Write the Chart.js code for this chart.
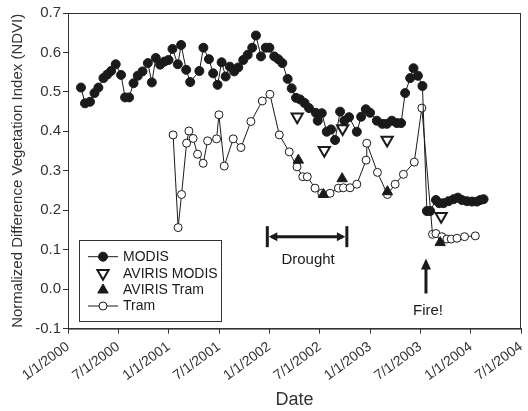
<!DOCTYPE html>
<html><head><meta charset="utf-8">
<script src="https://cdn.jsdelivr.net/npm/chart.js@4"></script>
<style>html,body{margin:0;padding:0;background:#fff;}canvas{display:block;}</style>
</head><body>
<canvas id="c" width="528" height="411"></canvas>
<script>
// ---- data (dates as decimal years) ----
const modisDates = [2000.129,2000.169,2000.219,2000.263,2000.302,2000.352,2000.390,2000.428,2000.474,2000.527,2000.567,2000.607,2000.651,2000.693,2000.740,2000.793,2000.833,2000.872,2000.915,2000.959,2000.999,2001.038,2001.091,2001.124,2001.174,2001.214,2001.305,2001.345,2001.400,2001.442,2001.486,2001.526,2001.566,2001.608,2001.651,2001.691,2001.741,2001.785,2001.830,2001.867,2001.917,2001.964,2002.001,2002.049,2002.089,2002.129,2002.182,2002.222,2002.265,2002.305,2002.350,2002.394,2002.461,2002.481,2002.521,2002.570,2002.613,2002.653,2002.703,2002.745,2002.792,2002.869,2002.912,2002.958,2003.001,2003.068,2003.123,2003.167,2003.217,2003.267,2003.309,2003.349,2003.399,2003.432,2003.476,2003.521,2003.565,2003.598,2003.655,2003.687,2003.730,2003.780,2003.830,2003.873,2003.913,2003.963,2004.013,2004.062,2004.095,2004.128];
const modisNdvi = [0.511,0.471,0.475,0.497,0.511,0.535,0.544,0.553,0.570,0.543,0.486,0.486,0.522,0.541,0.552,0.573,0.524,0.586,0.569,0.577,0.581,0.609,0.570,0.619,0.556,0.525,0.553,0.612,0.583,0.547,0.518,0.575,0.539,0.564,0.552,0.562,0.581,0.594,0.612,0.643,0.590,0.612,0.612,0.590,0.583,0.573,0.533,0.509,0.485,0.481,0.472,0.459,0.447,0.427,0.446,0.399,0.405,0.378,0.450,0.427,0.436,0.399,0.437,0.456,0.447,0.427,0.419,0.419,0.427,0.421,0.421,0.497,0.535,0.560,0.541,0.515,0.198,0.198,0.226,0.218,0.218,0.223,0.228,0.232,0.226,0.223,0.222,0.222,0.226,0.228];
const tramDates = [2001.044,2001.094,2001.128,2001.178,2001.201,2001.243,2001.287,2001.343,2001.387,2001.476,2001.499,2001.552,2001.641,2001.718,2001.817,2001.930,2002.006,2002.099,2002.198,2002.275,2002.332,2002.377,2002.454,2002.521,2002.603,2002.686,2002.736,2002.802,2002.869,2002.961,2002.968,2003.074,2003.173,2003.250,2003.332,2003.440,2003.515,2003.621,2003.655,2003.714,2003.764,2003.807,2003.864,2003.939,2004.046];
const tramNdvi = [0.391,0.156,0.240,0.370,0.401,0.382,0.342,0.319,0.376,0.381,0.442,0.312,0.381,0.359,0.425,0.477,0.494,0.391,0.348,0.310,0.285,0.285,0.256,0.243,0.243,0.256,0.257,0.257,0.266,0.327,0.370,0.296,0.240,0.266,0.291,0.322,0.459,0.139,0.141,0.133,0.127,0.127,0.129,0.133,0.135];
const avirisModisDates = [2002.277,2002.546,2002.728,2003.170,2003.707];
const avirisModisNdvi = [0.437,0.352,0.407,0.378,0.185];
const avirisTramDates = [2002.288,2002.537,2002.723,2003.173,2003.697];
const avirisTramNdvi = [0.327,0.240,0.280,0.247,0.118];
const xTickLabels = ['1/1/2000','7/1/2000','1/1/2001','7/1/2001','1/1/2002','7/1/2002','1/1/2003','7/1/2003','1/1/2004','7/1/2004'];
const yTickLabels = ['-0.1','0.0','0.1','0.2','0.3','0.4','0.5','0.6','0.7'];
const seriesNames = ['MODIS','AVIRIS MODIS','AVIRIS Tram','Tram'];
const droughtSpan = [2001.98, 2002.77];
const droughtLevel = 0.133;
const fireDate = 2003.556;
const fireArrowRange = [-0.011, 0.078];

const pts = (xs, ys) => xs.map((x, i) => ({x: x, y: ys[i]}));
const INK = '#1a1a1a';
const FONT = "'Liberation Sans', Arial, sans-serif";

const overlay = {
  id: 'overlay',
  beforeDatasetsDraw(chart) {
    const {ctx, chartArea: a} = chart;
    ctx.save();
    ctx.strokeStyle = '#333'; ctx.lineWidth = 1;
    ctx.strokeRect(a.left + 0.5, a.top + 0.5, a.right - a.left - 1, a.bottom - a.top);
    ctx.restore();
  },
  afterDatasetsDraw(chart) {
    const {ctx} = chart;
    const xs = chart.scales.x, ys = chart.scales.y;
    ctx.save();
    ctx.fillStyle = INK; ctx.strokeStyle = INK;
    // Drought bracket
    const x0 = xs.getPixelForValue(droughtSpan[0]), x1 = xs.getPixelForValue(droughtSpan[1]);
    const yl = ys.getPixelForValue(droughtLevel);
    ctx.lineWidth = 3;
    ctx.beginPath(); ctx.moveTo(x0 + 4, yl); ctx.lineTo(x1 - 4, yl); ctx.stroke();
    ctx.beginPath(); ctx.moveTo(x0, yl - 10.5); ctx.lineTo(x0, yl + 10.5); ctx.stroke();
    ctx.beginPath(); ctx.moveTo(x1, yl - 10.5); ctx.lineTo(x1, yl + 10.5); ctx.stroke();
    ctx.beginPath(); ctx.moveTo(x0 + 1.5, yl); ctx.lineTo(x0 + 10, yl - 4.5); ctx.lineTo(x0 + 10, yl + 4.5); ctx.closePath(); ctx.fill();
    ctx.beginPath(); ctx.moveTo(x1 - 1.5, yl); ctx.lineTo(x1 - 10, yl - 4.5); ctx.lineTo(x1 - 10, yl + 4.5); ctx.closePath(); ctx.fill();
    ctx.font = '15px ' + FONT; ctx.textAlign = 'center'; ctx.textBaseline = 'middle';
    ctx.fillText('Drought', (x0 + x1) / 2 + 1, yl + 23);
    // Fire arrow
    const fx = xs.getPixelForValue(fireDate);
    const fb = ys.getPixelForValue(fireArrowRange[0]), ft = ys.getPixelForValue(fireArrowRange[1]);
    ctx.lineWidth = 3;
    ctx.beginPath(); ctx.moveTo(fx, fb); ctx.lineTo(fx, ft + 8); ctx.stroke();
    ctx.beginPath(); ctx.moveTo(fx, ft); ctx.lineTo(fx - 5, ft + 11); ctx.lineTo(fx + 5, ft + 11); ctx.closePath(); ctx.fill();
    ctx.fillText('Fire!', fx + 2, fb + 17);
    ctx.restore();
  },
  afterDraw(chart) {
    const {ctx} = chart;
    const ds = chart.data.datasets;
    ctx.save();
    const L = 79.5, T = 240.5, W = 142, H = 81;
    ctx.fillStyle = '#fff'; ctx.fillRect(L, T, W, H);
    ctx.strokeStyle = '#333'; ctx.lineWidth = 1; ctx.strokeRect(L, T, W, H);
    const rows = [256.7, 273.3, 290, 306];
    const order = [1, 2, 0, 3]; // dataset indices for MODIS, AVIRIS MODIS, AVIRIS Tram, Tram
    ctx.font = '14px ' + FONT; ctx.textBaseline = 'middle'; ctx.textAlign = 'left';
    rows.forEach((ry, i) => {
      const d = ds[order[i]];
      const mx = 103;
      if (d.showLine !== false) {
        ctx.strokeStyle = INK; ctx.lineWidth = 1;
        ctx.beginPath(); ctx.moveTo(88, ry); ctx.lineTo(118, ry); ctx.stroke();
      }
      ctx.fillStyle = d.pointBackgroundColor; ctx.strokeStyle = d.pointBorderColor; ctx.lineWidth = d.pointBorderWidth;
      const r = d.pointRadius;
      ctx.beginPath();
      if (d.pointStyle === 'triangle') {
        const rot = (d.pointRotation || 0) * Math.PI / 180;
        for (let k = 0; k < 3; k++) {
          const ang = rot + k * 2 * Math.PI / 3;
          const px = mx + Math.sin(ang) * r, py = ry - Math.cos(ang) * r;
          k === 0 ? ctx.moveTo(px, py) : ctx.lineTo(px, py);
        }
        ctx.closePath();
      } else {
        ctx.arc(mx, ry, r, 0, Math.PI * 2);
      }
      ctx.fill(); ctx.stroke();
      ctx.fillStyle = INK;
      ctx.fillText(d.label, 123, ry + 0.5);
    });
    ctx.restore();
  }
};

new Chart(document.getElementById('c'), {
  type: 'line',
  data: {
    datasets: [
      {label: seriesNames[2], data: pts(avirisTramDates, avirisTramNdvi), showLine: false, order: 0,
       pointStyle: 'triangle', pointRadius: 6, pointBackgroundColor: INK, pointBorderColor: INK, pointBorderWidth: 1},
      {label: seriesNames[0], data: pts(modisDates, modisNdvi), order: 2, borderColor: INK, borderWidth: 1,
       pointStyle: 'circle', pointRadius: 4.5, pointBackgroundColor: INK, pointBorderColor: INK, pointBorderWidth: 1},
      {label: seriesNames[1], data: pts(avirisModisDates, avirisModisNdvi), showLine: false, order: 0,
       pointStyle: 'triangle', pointRotation: 180, pointRadius: 6.5, pointBackgroundColor: '#fff', pointBorderColor: INK, pointBorderWidth: 2},
      {label: seriesNames[3], data: pts(tramDates, tramNdvi), order: 3, borderColor: INK, borderWidth: 1,
       pointStyle: 'circle', pointRadius: 4, pointBackgroundColor: '#fff', pointBorderColor: INK, pointBorderWidth: 1}
    ]
  },
  options: {
    responsive: false, animation: false, devicePixelRatio: 1,
    layout: {padding: {top: 13, right: 7, left: 0, bottom: 0}, autoPadding: false},
    plugins: {legend: {display: false}, tooltip: {enabled: false}},
    elements: {line: {tension: 0}},
    scales: {
      x: {
        type: 'linear', min: 2000, max: 2004.5,
        ticks: {stepSize: 0.5, autoSkip: false, minRotation: 36, maxRotation: 36, padding: 5,
                color: '#333', font: {family: FONT, size: 14},
                callback: (v, i) => xTickLabels[i]},
        grid: {display: true, drawOnChartArea: false, drawTicks: true, tickLength: 5, color: '#333', tickColor: '#333'},
        border: {display: true, color: '#333', width: 1},
        title: {display: true, text: 'Date', color: '#333', font: {family: FONT, size: 18}, padding: 0},
        afterFit(s) { s.height = 82.4; s.paddingLeft = 0; s.paddingRight = 0; }
      },
      y: {
        min: -0.1, max: 0.7,
        ticks: {stepSize: 0.1, padding: 2, color: '#333', font: {family: FONT, size: 15},
                callback: (v, i) => yTickLabels[i]},
        grid: {display: true, drawOnChartArea: false, drawTicks: true, tickLength: 5, color: '#333', tickColor: '#333'},
        border: {display: true, color: '#333', width: 1},
        title: {display: true, text: 'Normalized Difference Vegetation Index (NDVI)', color: '#333',
                font: {family: FONT, size: 15}, padding: {top: 9, bottom: 0}},
        afterFit(s) { s.width = 68; s.paddingTop = 0; s.paddingBottom = 0; }
      }
    }
  },
  plugins: [overlay]
});
</script>
</body></html>
